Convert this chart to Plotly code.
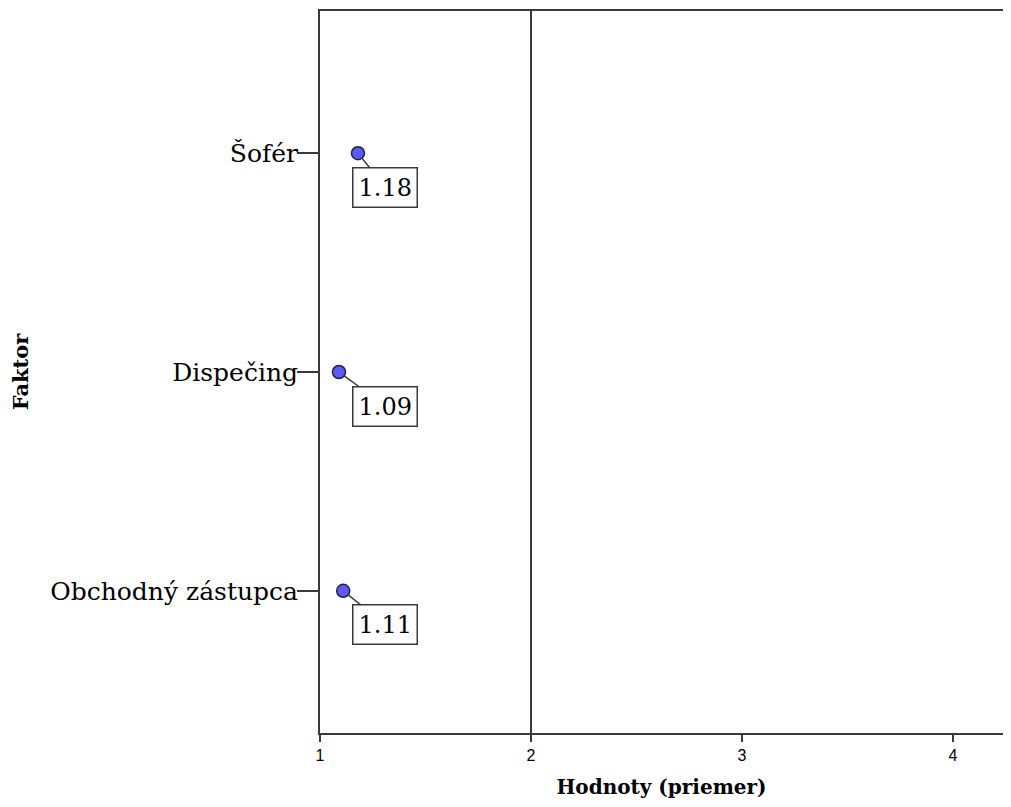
import plotly.graph_objects as go

categories = ["Šofér", "Dispečing", "Obchodný zástupca"]
means = [1.18, 1.09, 1.11]
mean_labels = ["1.18", "1.09", "1.11"]
x_ticks = [1, 2, 3, 4]
x_tick_labels = ["1", "2", "3", "4"]
reference_value = 2

serif = "DejaVu Serif, serif"
sans = "Liberation Sans, Arial, sans-serif"
line_col = "#3a3a3a"

fig = go.Figure()
fig.add_trace(go.Scatter(
    x=means, y=categories, mode="markers",
    marker=dict(size=13, color="#5b5bf5", line=dict(color="#222244", width=1.5)),
    showlegend=False, hoverinfo="x+y",
))

for v, c, t in zip(means, categories, mean_labels):
    fig.add_annotation(
        x=v, y=c, xref="x", yref="y",
        text=t, showarrow=True, arrowhead=0, arrowwidth=1.5, arrowcolor=line_col,
        axref="x", ax=1.31, ayref="pixel", ay=34, standoff=6,
        font=dict(family=serif, size=24, color="black"),
        bordercolor=line_col, borderwidth=1.5, borderpad=5, bgcolor="white",
    )

fig.add_shape(type="line", xref="x", yref="paper", x0=reference_value, x1=reference_value,
              y0=0, y1=1, line=dict(color=line_col, width=2))

fig.update_layout(
    width=995, height=791,
    margin=dict(l=312, r=0, t=3, b=66, autoexpand=False),
    plot_bgcolor="white", paper_bgcolor="white",
    xaxis=dict(
        range=[1, 4.237], tickvals=x_ticks, ticktext=x_tick_labels,
        showgrid=False, zeroline=False, automargin=False,
        showline=True, linecolor=line_col, linewidth=2, mirror=True,
        ticks="outside", ticklen=7, tickwidth=2, tickcolor=line_col,
        tickfont=dict(family=sans, size=16, color="black"),
        title=dict(text="<b>Hodnoty (priemer)</b>", font=dict(family=serif, size=20, color="black"), standoff=27),
    ),
    yaxis=dict(
        type="category", categoryorder="array", categoryarray=categories,
        range=[2.65, -0.65], automargin=False,
        showgrid=False, zeroline=False,
        showline=True, linecolor=line_col, linewidth=2,
        ticks="outside", ticklen=21, tickwidth=2, tickcolor=line_col,
        ticklabelstandoff=-6,
        tickfont=dict(family=serif, size=25, color="black"),
        title=dict(text="<b>Faktor</b>", font=dict(family=serif, size=21, color="black"), standoff=18),
    ),
)

fig.write_html("out.html")
